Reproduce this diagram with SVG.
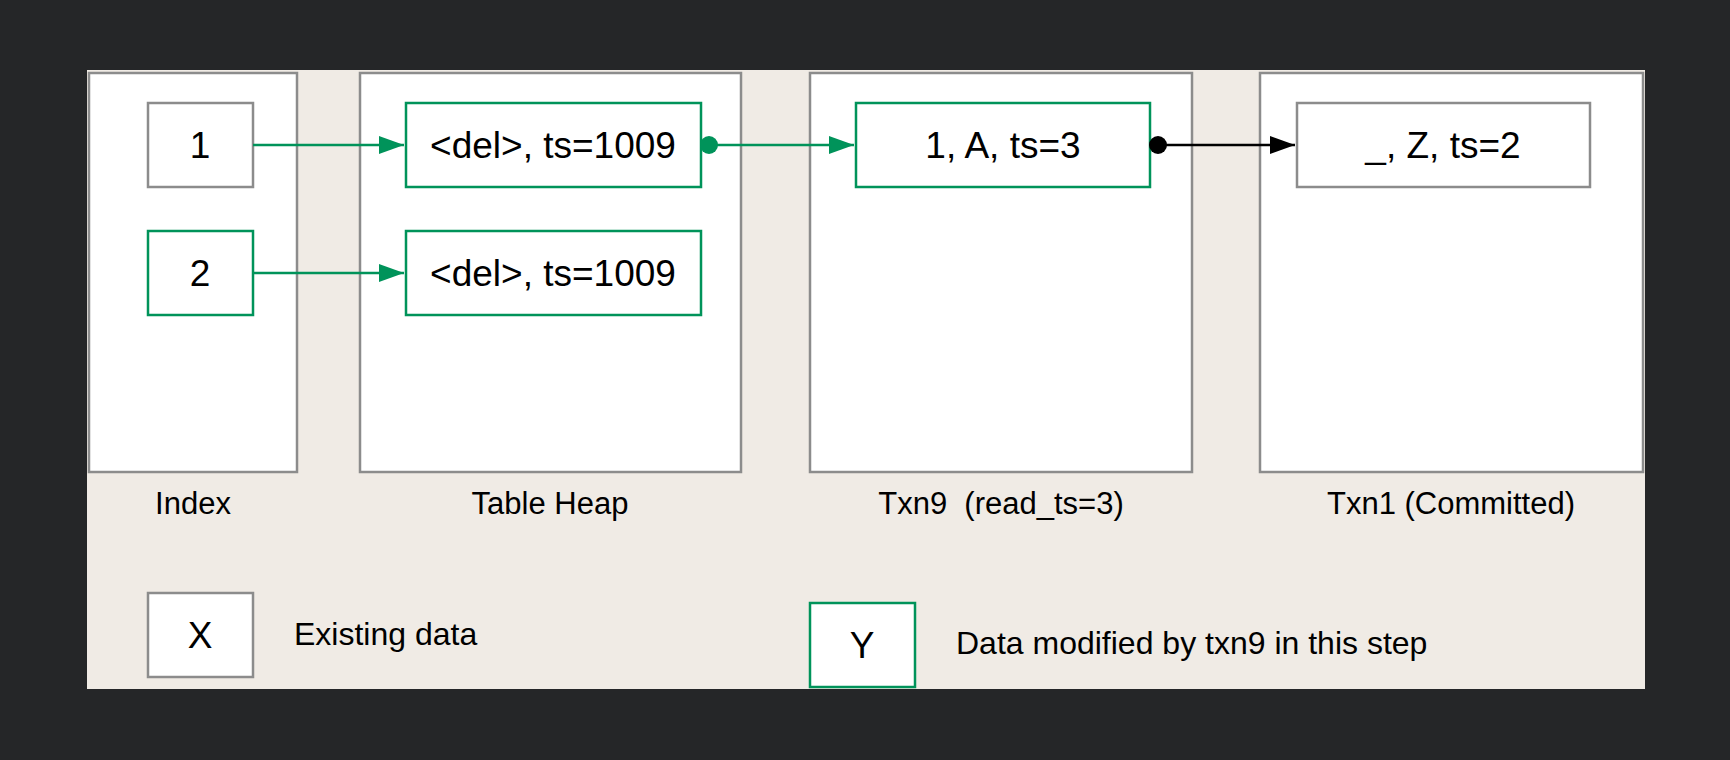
<svg xmlns="http://www.w3.org/2000/svg" width="1730" height="760" viewBox="0 0 1730 760">
  <style>
    .col { fill: #ffffff; stroke: #8c8c8c; stroke-width: 2.5; }
    .box { fill: #ffffff; stroke: #8c8c8c; stroke-width: 2.5; }
    .gbox { fill: #ffffff; stroke: #00935a; stroke-width: 2.5; }
    .t { font-family: "Liberation Sans", Arial, Helvetica, sans-serif; fill: #000000; }
    .big { font-size: 37px; text-anchor: middle; }
    .lbl { font-size: 31px; text-anchor: middle; }
    .leg { font-size: 32px; }
    .gline { stroke: #00935a; stroke-width: 2.5; fill: none; }
    .kline { stroke: #000000; stroke-width: 2.5; fill: none; }
  </style>
  <defs>
    <marker id="garrow" markerUnits="userSpaceOnUse" markerWidth="26" markerHeight="20" refX="25" refY="9" orient="auto">
      <path d="M0,0 L25,9 L0,18 Z" fill="#00935a"/>
    </marker>
    <marker id="karrow" markerUnits="userSpaceOnUse" markerWidth="26" markerHeight="20" refX="25" refY="9" orient="auto">
      <path d="M0,0 L25,9 L0,18 Z" fill="#000000"/>
    </marker>
    <marker id="gdot" markerUnits="userSpaceOnUse" markerWidth="20" markerHeight="20" refX="10" refY="10" orient="auto">
      <circle cx="10" cy="10" r="9" fill="#00935a"/>
    </marker>
    <marker id="kdot" markerUnits="userSpaceOnUse" markerWidth="20" markerHeight="20" refX="10" refY="10" orient="auto">
      <circle cx="10" cy="10" r="9" fill="#000000"/>
    </marker>
  </defs>

  <rect x="0" y="0" width="1730" height="760" fill="#252628"/>
  <rect id="panel" x="87" y="70" width="1558" height="619" fill="#f0ebe5"/>

  <g id="col-index">
    <rect class="col" x="89" y="73" width="208" height="399"/>
    <text class="t lbl" x="193" y="514">Index</text>
  </g>
  <g id="col-heap">
    <rect class="col" x="360" y="73" width="381" height="399"/>
    <text class="t lbl" x="550" y="514">Table Heap</text>
  </g>
  <g id="col-txn9">
    <rect class="col" x="810" y="73" width="382" height="399"/>
    <text class="t lbl" x="1001" y="514" xml:space="preserve">Txn9  (read_ts=3)</text>
  </g>
  <g id="col-txn1">
    <rect class="col" x="1260" y="73" width="383" height="399"/>
    <text class="t lbl" x="1451" y="514">Txn1 (Committed)</text>
  </g>

  <g id="idx1">
    <rect class="box" x="148" y="103" width="105" height="84"/>
    <text class="t big" x="200" y="158">1</text>
  </g>
  <g id="idx2">
    <rect class="gbox" x="148" y="231" width="105" height="84"/>
    <text class="t big" x="200" y="286">2</text>
  </g>
  <g id="heap1">
    <rect class="gbox" x="406" y="103" width="295" height="84"/>
    <text class="t big" x="553" y="158">&lt;del&gt;, ts=1009</text>
  </g>
  <g id="heap2">
    <rect class="gbox" x="406" y="231" width="295" height="84"/>
    <text class="t big" x="553" y="286">&lt;del&gt;, ts=1009</text>
  </g>
  <g id="txn9v">
    <rect class="gbox" x="856" y="103" width="294" height="84"/>
    <text class="t big" x="1003" y="158">1, A, ts=3</text>
  </g>
  <g id="txn1v">
    <rect class="box" x="1297" y="103" width="293" height="84"/>
    <text class="t big" x="1443" y="158">_, Z, ts=2</text>
  </g>

  <g id="connectors">
    <line class="gline" x1="253" y1="145" x2="404" y2="145" marker-end="url(#garrow)"/>
    <line class="gline" x1="253" y1="273" x2="404" y2="273" marker-end="url(#garrow)"/>
    <line class="gline" x1="709" y1="145" x2="854" y2="145" marker-start="url(#gdot)" marker-end="url(#garrow)"/>
    <line class="kline" x1="1158" y1="145" x2="1295" y2="145" marker-start="url(#kdot)" marker-end="url(#karrow)"/>
  </g>

  <g id="legend-existing">
    <rect class="box" x="148" y="593" width="105" height="84"/>
    <text class="t big" x="200" y="648">X</text>
    <text class="t leg" x="294" y="645">Existing data</text>
  </g>
  <g id="legend-modified">
    <rect class="gbox" x="810" y="603" width="105" height="84"/>
    <text class="t big" x="862" y="658">Y</text>
    <text class="t leg" x="956" y="654">Data modified by txn9 in this step</text>
  </g>
</svg>
